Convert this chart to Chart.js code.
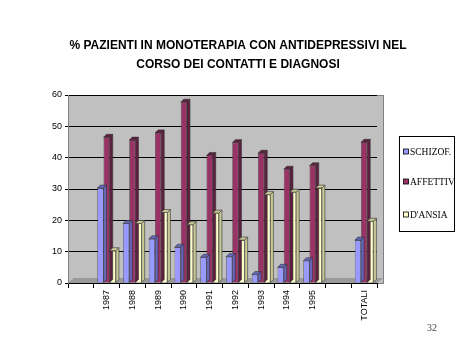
<!DOCTYPE html>
<html><head><meta charset="utf-8">
<script src="https://cdn.jsdelivr.net/npm/chart.js@4"></script>
<style>html,body{margin:0;padding:0;background:#fff}#wrap{width:473px;height:355px;position:relative}</style>
</head><body><div id="wrap"><canvas id="c" width="473" height="355"></canvas></div>
<script>
const categories = ['', '1987','1988','1989','1990','1991','1992','1993','1994','1995','', 'TOTALI'];
const schizof   = [null,30.3,19.0,14.1,11.4, 8.2, 8.4, 2.7, 5.0, 7.1,null,13.7];
const affettivi = [null,46.5,45.6,47.9,57.7,40.7,44.8,41.4,36.3,37.4,null,44.9];
const ansia     = [null,10.3,19.0,22.5,18.6,22.3,13.7,28.2,29.0,30.3,null,19.7];
const seriesNames = ['SCHIZOF.','AFFETTIVI',"D'ANSIA"];
const titleLines = ['% PAZIENTI IN MONOTERAPIA CON ANTIDEPRESSIVI NEL','CORSO DEI CONTATTI E DIAGNOSI'];
const yMin = 0, yMax = 60, yStep = 10;
const pageNumber = '32';

const faceColors = ['#9999FF','#993366','#FFFFCC'];
const sideColors = ['#6666BB','#5E1F40','#C8C896'];
const DEPTH = 3;

const bgPlugin = {
  id: 'bg',
  beforeDraw(chart) {
    const {ctx, chartArea: a} = chart;
    ctx.save();
    ctx.fillStyle = '#C0C0C0';
    ctx.fillRect(a.left, a.top, a.right - a.left + 6, a.bottom - a.top);
    ctx.strokeStyle = '#808080';
    ctx.lineWidth = 1;
    ctx.strokeRect(a.left + 0.5, a.top + 0.5, a.right - a.left + 6, a.bottom - a.top);
    ctx.fillStyle = '#9A9A9A';
    ctx.beginPath();
    ctx.moveTo(a.left, a.bottom);
    ctx.lineTo(a.right, a.bottom);
    ctx.lineTo(a.right + 6, a.bottom - 5);
    ctx.lineTo(a.left + 6, a.bottom - 5);
    ctx.closePath();
    ctx.fill();
    ctx.restore();
  }
};

const bar3dPlugin = {
  id: 'bar3d',
  afterDatasetsDraw(chart) {
    const ctx = chart.ctx;
    ctx.save();
    chart.data.datasets.forEach((ds, di) => {
      const meta = chart.getDatasetMeta(di);
      meta.data.forEach((el, i) => {
        if (ds.data[i] == null) return;
        const p = el.getProps(['x','y','base','width'], true);
        const l = p.x - p.width/2, r = p.x + p.width/2, t = p.y, b = p.base;
        ctx.fillStyle = sideColors[di];
        ctx.strokeStyle = '#333';
        ctx.lineWidth = 0.6;
        ctx.beginPath();
        ctx.moveTo(r, t); ctx.lineTo(r + DEPTH, t - DEPTH); ctx.lineTo(r + DEPTH, b - DEPTH); ctx.lineTo(r, b); ctx.closePath();
        ctx.fill(); ctx.stroke();
        ctx.beginPath();
        ctx.moveTo(l, t); ctx.lineTo(l + DEPTH, t - DEPTH); ctx.lineTo(r + DEPTH, t - DEPTH); ctx.lineTo(r, t); ctx.closePath();
        ctx.fill(); ctx.stroke();
      });
    });
    ctx.restore();
  }
};

const overlayPlugin = {
  id: 'overlay',
  afterDraw(chart) {
    const ctx = chart.ctx;
    ctx.save();
    // title
    ctx.fillStyle = '#000';
    ctx.font = 'bold 12px "Liberation Sans", Arial';
    ctx.textAlign = 'center';
    ctx.textBaseline = 'middle';
    ctx.fillText(titleLines[0], 238, 46);
    ctx.fillText(titleLines[1], 238, 65);
    // legend box
    const bx = 399.5, by = 136.5, bw = 55, bh = 95;
    ctx.textAlign = 'left';
    ctx.fillStyle = '#fff';
    ctx.fillRect(bx, by, bw, bh);
    ctx.strokeStyle = '#000';
    ctx.lineWidth = 1;
    ctx.strokeRect(bx, by, bw, bh);
    const ys = [152, 182, 215];
    ctx.save();
    ctx.beginPath();
    ctx.rect(bx, by, bw - 1, bh);
    ctx.clip();
    ctx.font = '9.5px "Liberation Serif"';
    ctx.textBaseline = 'middle';
    chart.data.datasets.forEach((ds, i) => {
      ctx.fillStyle = ds.backgroundColor;
      ctx.fillRect(403.5, ys[i] - 3, 5, 5);
      ctx.strokeStyle = '#000';
      ctx.lineWidth = 0.8;
      ctx.strokeRect(403.5, ys[i] - 3, 5, 5);
      ctx.fillStyle = '#000';
      ctx.fillText(ds.label, 410, ys[i]);
    });
    ctx.restore();
    // page number
    ctx.font = '10px "Liberation Serif"';
    ctx.fillStyle = '#444';
    ctx.textBaseline = 'middle';
    ctx.fillText(pageNumber, 427, 328);
    ctx.restore();
  }
};

new Chart(document.getElementById('c'), {
  type: 'bar',
  data: {
    labels: categories,
    datasets: [
      {label: seriesNames[0], data: schizof,   backgroundColor: faceColors[0]},
      {label: seriesNames[1], data: affettivi, backgroundColor: faceColors[1]},
      {label: seriesNames[2], data: ansia,     backgroundColor: faceColors[2]}
    ].map(d => Object.assign(d, {borderColor: '#333', borderWidth: 0.6, categoryPercentage: 0.72, barPercentage: 1.0}))
  },
  options: {
    responsive: false,
    animation: false,
    devicePixelRatio: 1,
    layout: {padding: {left: 0, right: 96, top: 95, bottom: 0}},
    plugins: {
      legend: {display: false},
      tooltip: {enabled: false},
      title: {display: false}
    },
    scales: {
      x: {
        grid: {drawOnChartArea: false, drawTicks: true, tickLength: 5, color: '#000', offset: true},
        border: {display: true, color: '#000'},
        ticks: {color: '#000', font: {family: '"Liberation Sans", Arial', size: 9}, maxRotation: 90, minRotation: 90, autoSkip: false, padding: 2},
        afterFit(s) { s.height = 72; }
      },
      y: {
        min: yMin, max: yMax,
        ticks: {stepSize: yStep, color: '#000', font: {family: '"Liberation Sans", Arial', size: 9}, padding: 3},
        grid: {color: '#000', lineWidth: 1, drawTicks: true, tickLength: 3},
        border: {display: true, color: '#808080'},
        afterFit(s) { s.width = 68; }
      }
    }
  },
  plugins: [bgPlugin, bar3dPlugin, overlayPlugin]
});
</script>
</body></html>
